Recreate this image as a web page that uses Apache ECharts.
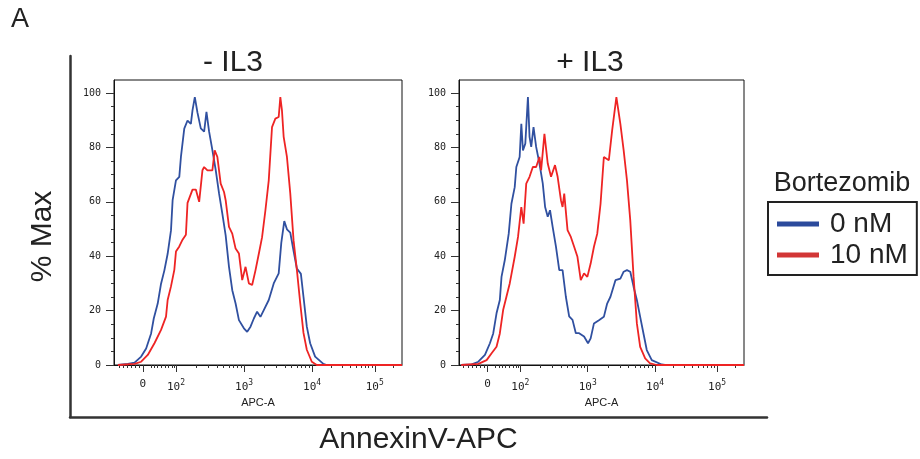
<!DOCTYPE html>
<html>
<head>
<meta charset="utf-8">
<title>AnnexinV-APC</title>
<script src="https://cdn.jsdelivr.net/npm/echarts@6/dist/echarts.min.js"></script>
<style>
  html, body { margin: 0; padding: 0; background: #fff; }
  #main { width: 920px; height: 459px; }
</style>
</head>
<body>
<div id="main"></div>
<script>
// x positions are in "decade" units of the biexponential APC-A scale (2 = 10^2, 3 = 10^3 ...)
// - IL3, 0 nM
var minusBlueX = [1.148,1.294,1.392,1.489,1.562,1.635,1.674,1.732,1.781,1.830,1.878,1.927,1.951,2.000,2.049,2.073,2.122,2.170,2.219,2.243,2.277,2.316,2.365,2.414,2.448,2.487,2.535,2.584,2.633,2.681,2.730,2.779,2.827,2.876,2.925,2.998,3.046,3.095,3.144,3.192,3.241,3.290,3.363,3.436,3.509,3.547,3.591,3.630,3.679,3.727,3.776,3.835,3.873,3.922,3.971,4.044,4.165,4.214,5.32];
var minusBlueY = [0,0.4,0.9,3.1,6.1,11.6,17.1,22.6,29.9,34.8,40.9,49.5,60.6,67.9,69.2,76.5,86.9,89.9,88.7,93.6,98.5,92.8,87.0,85.8,93.1,85.8,79.0,71.7,63.1,55.7,47.7,36.1,27.5,22.6,16.5,13.5,12.2,14.1,17.1,19.6,17.7,20.2,23.9,30.0,33.7,44.9,52.9,49.9,48.7,42.0,35.5,33.5,25.1,14.1,8.0,3.1,0.4,0,0];
// - IL3, 10 nM
var minusRedX = [1.148,1.392,1.489,1.586,1.684,1.781,1.854,1.878,1.927,1.976,2.000,2.049,2.097,2.146,2.170,2.243,2.292,2.341,2.389,2.414,2.462,2.535,2.569,2.608,2.657,2.706,2.730,2.779,2.827,2.876,2.925,2.973,3.022,3.071,3.119,3.168,3.217,3.265,3.314,3.363,3.411,3.460,3.509,3.533,3.557,3.582,3.630,3.679,3.727,3.776,3.825,3.873,3.922,3.995,4.068,5.32];
var minusRedY = [0,0.4,1.2,3.7,8.0,12.9,17.8,23.9,28.9,35.0,41.7,43.6,46.1,47.9,59.6,64.5,64.5,60.0,71.6,72.8,71.6,71.6,78.9,76.5,66.7,63.6,60.6,50.8,48.3,42.8,41.0,31.2,36.1,30.0,29.4,34.8,40.9,47.0,56.9,67.9,87.5,90.6,91.2,98.5,93.6,83.9,76.5,63.1,45.9,35.0,22.8,11.8,5.6,1.2,0,0];
// + IL3, 0 nM
var plusBlueX = [1.123,1.279,1.377,1.475,1.549,1.598,1.647,1.696,1.721,1.770,1.828,1.868,1.917,1.941,1.990,2.015,2.039,2.074,2.113,2.137,2.162,2.196,2.235,2.284,2.333,2.368,2.407,2.441,2.480,2.529,2.578,2.627,2.676,2.725,2.775,2.824,2.873,2.946,3.005,3.044,3.093,3.167,3.240,3.289,3.338,3.412,3.485,3.534,3.583,3.632,3.681,3.730,3.779,3.828,3.877,3.951,4.098,4.147,5.32];
var plusBlueY = [0,0.2,1.2,3.7,8.0,11.6,19.0,23.9,32.4,38.6,48.3,59.3,65.4,72.8,76.5,88.7,78.9,81.4,98.5,83.9,80.2,87.5,80.2,74.1,66.8,58.1,54.5,56.9,50.8,43.5,34.9,34.9,25.1,17.9,16.6,11.7,11.7,10.5,8.0,9.8,15.3,16.5,17.7,22.6,25.1,31.2,31.8,34.3,34.9,34.3,28.8,23.9,17.7,11.6,5.5,1.8,0.2,0,0];
// + IL3, 10 nM
var plusRedX = [1.123,1.377,1.500,1.574,1.647,1.696,1.745,1.794,1.843,1.917,1.966,2.015,2.049,2.088,2.137,2.186,2.235,2.284,2.309,2.358,2.407,2.456,2.515,2.554,2.603,2.627,2.652,2.701,2.750,2.799,2.848,2.897,2.946,2.995,3.044,3.093,3.142,3.191,3.240,3.314,3.363,3.426,3.485,3.534,3.583,3.632,3.681,3.730,3.779,3.853,3.926,4.025,5.32];
var plusRedY = [0,0.4,1.8,4.3,6.7,11.6,20.2,25.1,30.0,39.8,47.1,58.1,52.0,66.7,69.2,72.8,72.8,76.5,71.6,85.0,74.1,69.2,73.5,69.2,60.6,58.1,63.0,49.6,47.1,43.5,39.8,31.2,33.7,32.4,37.3,43.5,48.3,59.3,76.5,75.3,86.3,98.5,88.7,78.9,67.9,53.2,32.4,15.3,6.7,2.4,0.6,0,0];

var seriesNames = ['0 nM', '10 nM'];
var panelTitles = ['- IL3', '+ IL3'];
var xTickPos = [1.515, 2, 3, 4, 4.92];
var xTickText = ['0', '10{e|2}', '10{e|3}', '10{e|4}', '10{e|5}'];
var yTickPos = [0, 20, 40, 60, 80, 100];

var xMin = 1.09, xMax = 5.32, yMax = 104.8;
var blue = '#3050a0', red = '#ee2424';

// minor ticks of the biexponential axis
var xMinor = [1.16, 1.22, 1.28, 1.34, 1.40, 1.46, 1.63, 1.68, 1.73, 1.78, 1.84, 1.89, 1.94, 1.97];
[2, 3].forEach(function (n) {
    for (var k = 2; k <= 9; k++) xMinor.push(n + Math.log10(k));
});
for (var k = 2; k <= 9; k++) xMinor.push(4 + 0.92 * Math.log10(k));
xMinor.push(4.92 + 0.92 * Math.log10(2));
var yMinor = [];
for (var v = 5; v < 100; v += 5) if (v % 20) yMinor.push(v);

function pairs(xs, ys) {
    return xs.map(function (x, i) { return [x, ys[i]]; });
}

var tickFont = 'DejaVu Sans Mono';
var grids = [
    { left: 114, top: 80, width: 288, height: 285 },
    { left: 459, top: 80, width: 285, height: 285 }
];
var xAxes = [], yAxes = [], series = [];
var panelData = [
    [minusBlueX, minusBlueY, minusRedX, minusRedY],
    [plusBlueX, plusBlueY, plusRedX, plusRedY]
];

grids.forEach(function (g, i) {
    g.show = true;
    g.borderColor = '#111';
    g.borderWidth = 1;
    g.outerBoundsMode = 'none';
    // major ticks + labels
    xAxes.push({
        gridIndex: i, type: 'value', min: xMin, max: xMax, position: 'bottom',
        name: 'APC-A', nameLocation: 'middle', nameGap: 31,
        nameTextStyle: { fontFamily: 'Liberation Sans', fontSize: 11, color: '#222' },
        axisLine: { lineStyle: { color: '#111', width: 1 } },
        axisTick: { customValues: xTickPos, length: 7, lineStyle: { color: '#333' } },
        axisLabel: {
            customValues: xTickPos, margin: 14,
            fontFamily: tickFont, fontSize: 11, color: '#222',
            formatter: function (val) {
                var idx = xTickPos.indexOf(val);
                return idx >= 0 ? xTickText[idx] : '';
            },
            rich: { e: { fontFamily: tickFont, fontSize: 8, padding: [0, 0, 8, 0], color: '#222' } }
        },
        splitLine: { show: false }
    });
    // minor ticks
    xAxes.push({
        gridIndex: i, type: 'value', min: xMin, max: xMax, position: 'bottom',
        axisLine: { show: false },
        axisTick: { customValues: xMinor, length: 3, lineStyle: { color: '#333' } },
        axisLabel: { show: false },
        splitLine: { show: false }
    });
    yAxes.push({
        gridIndex: i, type: 'value', min: 0, max: yMax, position: 'left',
        axisLine: { lineStyle: { color: '#111', width: 1 } },
        axisTick: { customValues: yTickPos, length: 8, lineStyle: { color: '#333' } },
        axisLabel: {
            customValues: yTickPos, margin: 13,
            fontFamily: tickFont, fontSize: 10, color: '#222'
        },
        splitLine: { show: false }
    });
    yAxes.push({
        gridIndex: i, type: 'value', min: 0, max: yMax, position: 'left',
        axisLine: { show: false },
        axisTick: { customValues: yMinor, length: 3, lineStyle: { color: '#333' } },
        axisLabel: { show: false },
        splitLine: { show: false }
    });
    var d = panelData[i];
    series.push({
        name: seriesNames[0], type: 'line', xAxisIndex: i * 2, yAxisIndex: i * 2,
        data: pairs(d[0], d[1]), showSymbol: false, symbol: 'none',
        itemStyle: { color: blue }, lineStyle: { color: blue, width: 1.8 }
    });
    series.push({
        name: seriesNames[1], type: 'line', xAxisIndex: i * 2, yAxisIndex: i * 2,
        data: pairs(d[2], d[3]), showSymbol: false, symbol: 'none',
        itemStyle: { color: red }, lineStyle: { color: red, width: 1.8 }
    });
});

// outer frame with the shared axis titles
grids.push({ left: 70, top: 56, width: 697, height: 361, outerBoundsMode: 'none' });
xAxes.push({
    gridIndex: 2, type: 'value', min: 0, max: 1,
    name: 'AnnexinV-APC', nameLocation: 'middle', nameGap: 8,
    nameTextStyle: { fontFamily: 'Liberation Sans', fontSize: 30, color: '#222' },
    axisLine: { lineStyle: { color: '#333', width: 2.5 } },
    axisTick: { show: false }, axisLabel: { show: false }, splitLine: { show: false }
});
yAxes.push({
    gridIndex: 2, type: 'value', min: 0, max: 1,
    name: '% Max', nameLocation: 'middle', nameGap: 12,
    nameTextStyle: { fontFamily: 'Liberation Sans', fontSize: 30, color: '#222' },
    axisLine: { lineStyle: { color: '#333', width: 2.5 } },
    axisTick: { show: false }, axisLabel: { show: false }, splitLine: { show: false }
});

var chart = echarts.init(document.getElementById('main'));
chart.setOption({
    animation: false,
    backgroundColor: '#fff',
    grid: grids,
    xAxis: xAxes,
    yAxis: yAxes,
    series: series,
    legend: {
        data: [
            { name: seriesNames[0], itemStyle: { color: '#2b4a9c' } },
            { name: seriesNames[1], itemStyle: { color: '#d23636' } }
        ],
        orient: 'vertical', left: 768, top: 202,
        icon: 'rect', itemWidth: 42, itemHeight: 5, itemGap: 3,
        padding: [8, 9, 6, 9],
        borderColor: '#222', borderWidth: 2,
        selectedMode: false,
        textStyle: { fontFamily: 'Liberation Sans', fontSize: 28, color: '#222', padding: [0, 0, 0, 6] }
    },
    graphic: [
        { type: 'text', x: 20, y: 20, style: { text: 'A', font: '27px "Liberation Sans"', fill: '#222', align: 'center', verticalAlign: 'middle' } },
        { type: 'text', x: 233, y: 63, style: { text: panelTitles[0], font: '30px "Liberation Sans"', fill: '#222', align: 'center', verticalAlign: 'middle' } },
        { type: 'text', x: 590, y: 63, style: { text: panelTitles[1], font: '30px "Liberation Sans"', fill: '#222', align: 'center', verticalAlign: 'middle' } },
        { type: 'text', x: 842, y: 184, style: { text: 'Bortezomib', font: '27px "Liberation Sans"', fill: '#222', align: 'center', verticalAlign: 'middle' } }
    ]
});
</script>
</body>
</html>
